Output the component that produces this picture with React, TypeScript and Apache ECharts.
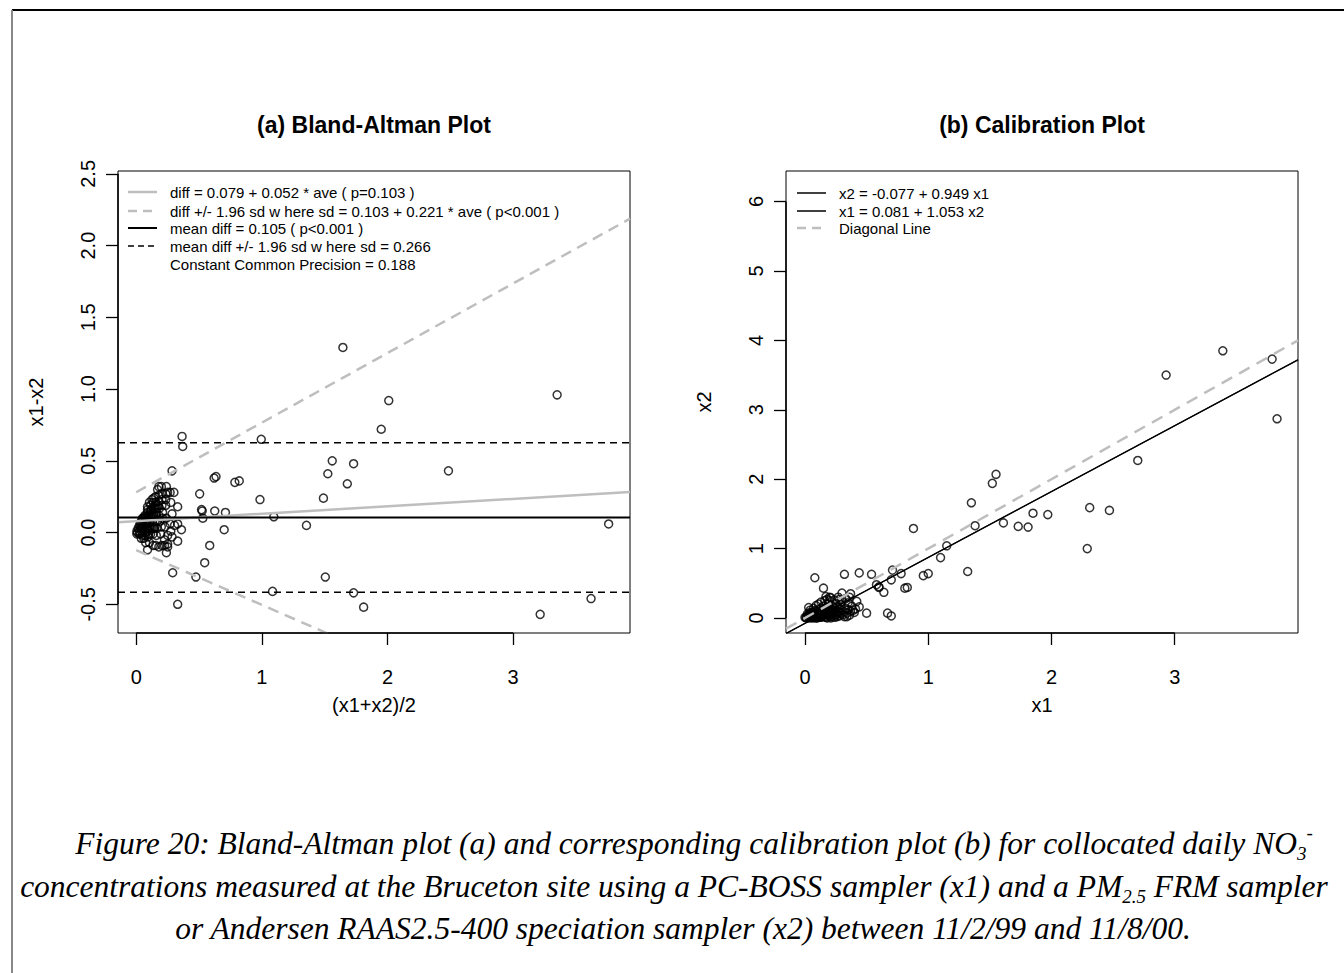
import React, { useEffect, useRef } from "react";
import * as echarts from "echarts";

// Paired daily NO3- concentrations: PC-BOSS sampler (x1) and FRM / RAAS sampler (x2)
const x1Values = [
  0.0, 0.01, 0.02, 0.03, 0.03, 0.04, 0.05, 0.05, 0.06, 0.06, 0.07, 0.08, 0.08, 0.09, 0.1, 0.1,
  0.11, 0.11, 0.12, 0.12, 0.13, 0.13, 0.14, 0.14, 0.15, 0.15, 0.16, 0.16, 0.17, 0.17, 0.18, 0.18,
  0.19, 0.19, 0.2, 0.2, 0.21, 0.21, 0.22, 0.22, 0.23, 0.23, 0.24, 0.24, 0.25, 0.25, 0.26, 0.26,
  0.27, 0.28, 0.28, 0.29, 0.29, 0.3, 0.31, 0.32, 0.32, 0.33, 0.34, 0.35, 0.36, 0.37, 0.38, 0.4,
  0.41, 0.04, 0.07, 0.09, 0.11, 0.13, 0.16, 0.18, 0.21, 0.24, 0.27, 0.3, 0.33, 0.35, 0.09, 0.12,
  0.14, 0.19,
  0.05, 0.07, 0.09, 0.1, 0.12, 0.13, 0.14, 0.15, 0.16, 0.17, 0.18, 0.19, 0.2, 0.21, 0.22, 0.23,
  0.24, 0.25, 0.26, 0.27, 0.06, 0.07, 0.08, 0.1, 0.11, 0.13, 0.15, 0.17, 0.02, 0.04, 0.03, 0.01,
  0.7, 0.67, 1.32, 0.5, 1.81, 1.97, 1.73, 1.85, 1.61, 0.81, 0.83, 0.96, 1.0, 0.64, 1.1, 0.44,
  0.39, 0.34, 0.42, 0.6, 0.6, 0.7, 0.78, 0.58, 1.15, 1.38, 0.71, 0.37, 0.36, 0.28, 0.3, 0.2,
  0.2, 0.17, 0.54, 0.44, 0.15, 0.32, 1.35, 0.08, 0.88, 1.52, 1.55, 0.03, 2.47, 2.31, 3.83, 2.7,
  3.79, 3.39, 2.93, 2.29,
];
const x2Values = [
  0.01, 0.0, 0.03, 0.0, 0.04, 0.06, 0.02, 0.05, 0.01, 0.08, 0.04, 0.02, 0.06, 0.1, 0.03, 0.07,
  0.05, 0.12, 0.02, 0.09, 0.06, 0.14, 0.03, 0.11, 0.07, 0.17, 0.04, 0.13, 0.09, 0.01, 0.06, 0.15,
  0.11, 0.2, 0.04, 0.08, 0.13, 0.02, 0.1, 0.18, 0.06, 0.15, 0.03, 0.12, 0.08, 0.21, 0.05, 0.16,
  0.1, 0.03, 0.14, 0.07, 0.19, 0.11, 0.05, 0.09, 0.02, 0.14, 0.07, 0.12, 0.04, 0.1, 0.17, 0.08,
  0.13, 0.11, 0.14, 0.18, 0.2, 0.23, 0.25, 0.27, 0.29, 0.26, 0.3, 0.24, 0.28, 0.22, 0.0, 0.01,
  0.05, 0.08,
  0.0, 0.0, 0.01, 0.0, 0.04, 0.01, 0.07, 0.05, 0.02, 0.06, 0.0, 0.04, 0.07, 0.0, 0.05, 0.09,
  0.01, 0.06, 0.02, 0.08, 0.03, 0.07, 0.11, 0.09, 0.08, 0.1, 0.12, 0.13, 0.06, 0.08, 0.02, 0.01,
  0.03, 0.07, 0.67, 0.07, 1.31, 1.49, 1.32, 1.51, 1.37, 0.43, 0.44, 0.61, 0.64, 0.37, 0.87, 0.16,
  0.11, 0.02, 0.24, 0.44, 0.45, 0.55, 0.64, 0.48, 1.04, 1.33, 0.69, 0.35, 0.3, 0.27, 0.36, 0.25,
  0.3, 0.31, 0.63, 0.65, 0.43, 0.63, 1.66, 0.58, 1.29, 1.94, 2.07, 0.15, 1.55, 1.59, 2.87, 2.27,
  3.73, 3.85, 3.5, 1.0,
];

// Fitted quantities reported in the legends
const diffFit = { intercept: 0.079, slope: 0.052 };
const sdFit = { intercept: 0.103, slope: 0.221 };
const meanDiff = 0.105;
const constSd = 0.266;
const fitX2onX1 = { intercept: -0.077, slope: 0.949 };
const fitX1onX2 = { intercept: 0.081, slope: 1.053 };

// Tick values
const baXTicks = [0, 1, 2, 3];
const baYTicks = [-0.5, 0, 0.5, 1, 1.5, 2, 2.5];
const calXTicks = [0, 1, 2, 3];
const calYTicks = [0, 1, 2, 3, 4, 5, 6];

// Legend texts
const baLegend = [
  "diff = 0.079 + 0.052 * ave ( p=0.103 )",
  "diff +/- 1.96 sd w here sd = 0.103 + 0.221 * ave ( p<0.001 )",
  "mean diff = 0.105 ( p<0.001 )",
  "mean diff +/- 1.96 sd w here sd = 0.266",
  "Constant Common Precision = 0.188",
];
const calLegend = ["x2 = -0.077 + 0.949 x1", "x1 = 0.081 + 1.053 x2", "Diagonal Line"];

const SANS = "'Liberation Sans', Arial, Helvetica, sans-serif";
const SERIF = "'Liberation Serif', 'Times New Roman', serif";
const GRAY = "#bebebe";

const BA = { xMin: -0.145, xMax: 3.93, yMin: -0.7, yMax: 2.52 };
const CAL = { xMin: -0.154, xMax: 4.0, yMin: -0.216, yMax: 6.44 };

function valueAxis(
  gridIndex: number,
  min: number,
  max: number,
  ticks: number[],
  fmt: (v: number) => string,
  vertical: boolean,
  name: string
) {
  return {
    type: "value",
    gridIndex,
    min,
    max,
    splitLine: { show: false },
    axisLine: { show: false, onZero: false },
    axisTick: {
      show: true,
      inside: false,
      length: 12,
      customValues: ticks,
      lineStyle: { color: "#000", width: 1.3 },
    },
    axisLabel: {
      customValues: ticks,
      formatter: (v: number) => fmt(v),
      color: "#000",
      fontFamily: SANS,
      fontSize: 20,
      margin: vertical ? 20 : 34,
      rotate: vertical ? 90 : 0,
    },
    name,
    nameLocation: "middle",
    nameGap: vertical ? 72 : 62,
    nameRotate: vertical ? 90 : 0,
    nameTextStyle: { color: "#000", fontFamily: SANS, fontSize: 20 },
  };
}

function segment(xi: number, yi: number, data: number[][], color: string, width: number, dash: any, clip = true) {
  return {
    type: "line",
    xAxisIndex: xi,
    yAxisIndex: yi,
    data,
    symbol: "none",
    silent: true,
    clip,
    lineStyle: { color, width, type: dash },
    z: 3,
  };
}

export default function App() {
  const ref = useRef<HTMLDivElement>(null);

  useEffect(() => {
    if (!ref.current) return;
    const chart = echarts.init(ref.current, undefined, { renderer: "svg" });

    const baPoints = x1Values.map((v, i) => [(v + x2Values[i]) / 2, v - x2Values[i]]);
    const calPoints = x1Values.map((v, i) => [v, x2Values[i]]);

    const diffAt = (a: number) => diffFit.intercept + diffFit.slope * a;
    const sdAt = (a: number) => sdFit.intercept + sdFit.slope * a;
    const upper = meanDiff + 1.96 * constSd;
    const lower = meanDiff - 1.96 * constSd;

    const lineAt = (f: { intercept: number; slope: number }, x: number) => f.intercept + f.slope * x;
    const invAt = (f: { intercept: number; slope: number }, x: number) => (x - f.intercept) / f.slope;

    const legendRows = (
      x0: number,
      ys: number[],
      texts: string[],
      styles: ({ stroke: string; width: number; dash?: number[] } | null)[]
    ) => {
      const els: any[] = [];
      texts.forEach((t, i) => {
        const s = styles[i];
        if (s) {
          els.push({
            type: "line",
            silent: true,
            shape: { x1: x0, y1: ys[i], x2: x0 + 29, y2: ys[i] },
            style: { stroke: s.stroke, lineWidth: s.width, lineDash: s.dash || null },
          });
        }
        els.push({
          type: "text",
          silent: true,
          x: x0 + 42,
          y: ys[i],
          style: { text: t, fill: "#000", font: `15px ${SANS}`, verticalAlign: "middle", align: "left" },
        });
      });
      return els;
    };

    const captionRich = {
      sub: { fontSize: 19, fontFamily: SERIF, fontStyle: "italic", verticalAlign: "bottom", lineHeight: 16 },
      sup: { fontSize: 19, fontFamily: SERIF, fontStyle: "italic", verticalAlign: "top", lineHeight: 16 },
    };
    const captionLine = (text: string, cx: number, y: number) => ({
      type: "text",
      silent: true,
      x: cx,
      y,
      style: {
        text,
        fill: "#000",
        fontSize: 31.5,
        fontFamily: SERIF,
        fontStyle: "italic",
        align: "center",
        verticalAlign: "middle",
        lineHeight: 40,
        rich: captionRich,
      },
    });

    chart.setOption({
      animation: false,
      backgroundColor: "#fff",
      grid: [
        { left: 118, top: 171, width: 512, height: 462, show: true, borderColor: "#000", borderWidth: 1, backgroundColor: "transparent" },
        { left: 786, top: 171, width: 512, height: 462, show: true, borderColor: "#000", borderWidth: 1, backgroundColor: "transparent" },
      ],
      xAxis: [
        valueAxis(0, BA.xMin, BA.xMax, baXTicks, (v) => String(v), false, "(x1+x2)/2"),
        valueAxis(1, CAL.xMin, CAL.xMax, calXTicks, (v) => String(v), false, "x1"),
      ],
      yAxis: [
        valueAxis(0, BA.yMin, BA.yMax, baYTicks, (v) => v.toFixed(1), true, "x1-x2"),
        valueAxis(1, CAL.yMin, CAL.yMax, calYTicks, (v) => String(v), true, "x2"),
      ],
      series: [
        {
          type: "scatter",
          xAxisIndex: 0,
          yAxisIndex: 0,
          data: baPoints,
          symbol: "circle",
          symbolSize: 8,
          silent: true,
          itemStyle: { color: "rgba(0,0,0,0)", borderColor: "#000", borderWidth: 1.5 },
          z: 2,
        },
        {
          type: "scatter",
          xAxisIndex: 1,
          yAxisIndex: 1,
          data: calPoints,
          symbol: "circle",
          symbolSize: 8,
          silent: true,
          itemStyle: { color: "rgba(0,0,0,0)", borderColor: "#000", borderWidth: 1.5 },
          z: 2,
        },
        // Bland-Altman reference lines
        segment(0, 0, [[BA.xMin, diffAt(BA.xMin)], [BA.xMax, diffAt(BA.xMax)]], GRAY, 2.5, "solid"),
        segment(0, 0, [[0, diffAt(0) + 1.96 * sdAt(0)], [BA.xMax, diffAt(BA.xMax) + 1.96 * sdAt(BA.xMax)]], GRAY, 2.5, [11, 7]),
        segment(0, 0, [[0, diffAt(0) - 1.96 * sdAt(0)], [BA.xMax, diffAt(BA.xMax) - 1.96 * sdAt(BA.xMax)]], GRAY, 2.5, [11, 7]),
        segment(0, 0, [[BA.xMin, meanDiff], [BA.xMax, meanDiff]], "#000", 2, "solid"),
        segment(0, 0, [[BA.xMin, upper], [BA.xMax, upper]], "#000", 1.6, [7, 5]),
        segment(0, 0, [[BA.xMin, lower], [BA.xMax, lower]], "#000", 1.6, [7, 5]),
        // axis segments spanning the tick range
        segment(0, 0, [[baXTicks[0], BA.yMin], [baXTicks[baXTicks.length - 1], BA.yMin]], "#000", 1.5, "solid", false),
        segment(0, 0, [[BA.xMin, baYTicks[0]], [BA.xMin, baYTicks[baYTicks.length - 1]]], "#000", 1.5, "solid", false),
        // Calibration lines
        segment(1, 1, [[CAL.xMin, CAL.xMin], [CAL.xMax, CAL.xMax]], GRAY, 2.5, [12, 8]),
        segment(1, 1, [[CAL.xMin, lineAt(fitX2onX1, CAL.xMin)], [CAL.xMax, lineAt(fitX2onX1, CAL.xMax)]], "#000", 1.2, "solid"),
        segment(1, 1, [[CAL.xMin, invAt(fitX1onX2, CAL.xMin)], [CAL.xMax, invAt(fitX1onX2, CAL.xMax)]], "#000", 1.2, "solid"),
        segment(1, 1, [[calXTicks[0], CAL.yMin], [calXTicks[calXTicks.length - 1], CAL.yMin]], "#000", 1.5, "solid", false),
        segment(1, 1, [[CAL.xMin, calYTicks[0]], [CAL.xMin, calYTicks[calYTicks.length - 1]]], "#000", 1.5, "solid", false),
      ],
      graphic: [
        // page frame
        { type: "line", silent: true, shape: { x1: 12, y1: 10, x2: 1344, y2: 10 }, style: { stroke: "#000", lineWidth: 2 } },
        { type: "line", silent: true, shape: { x1: 12, y1: 10, x2: 12, y2: 973 }, style: { stroke: "#888", lineWidth: 2 } },
        // panel titles
        {
          type: "text",
          silent: true,
          x: 374,
          y: 125,
          style: { text: "(a) Bland-Altman Plot", fill: "#000", font: `bold 23px ${SANS}`, align: "center", verticalAlign: "middle" },
        },
        {
          type: "text",
          silent: true,
          x: 1042,
          y: 125,
          style: { text: "(b) Calibration Plot", fill: "#000", font: `bold 23px ${SANS}`, align: "center", verticalAlign: "middle" },
        },
        ...legendRows(128, [192, 211, 228, 246, 264], baLegend, [
          { stroke: GRAY, width: 2.5 },
          { stroke: GRAY, width: 2.5, dash: [9, 6] },
          { stroke: "#000", width: 2 },
          { stroke: "#000", width: 1.6, dash: [6, 4] },
          null,
        ]),
        ...legendRows(797, [193, 211, 228], calLegend, [
          { stroke: "#000", width: 1.5 },
          { stroke: "#000", width: 1.5 },
          { stroke: GRAY, width: 2.5, dash: [9, 6] },
        ]),
        captionLine(
          "Figure 20: Bland-Altman plot (a) and corresponding calibration plot (b) for collocated daily NO{sub|3}{sup|-}",
          694,
          843
        ),
        captionLine(
          "concentrations measured at the Bruceton site using a PC-BOSS sampler (x1) and a PM{sub|2.5} FRM sampler",
          674,
          886
        ),
        captionLine("or Andersen RAAS2.5-400 speciation sampler (x2) between 11/2/99 and 11/8/00.", 683, 928),
      ],
    });

    return () => chart.dispose();
  }, []);

  return (
    <div
      ref={ref}
      style={{ position: "fixed", left: 0, top: 0, width: 1344, height: 973, background: "#fff" }}
    />
  );
}
